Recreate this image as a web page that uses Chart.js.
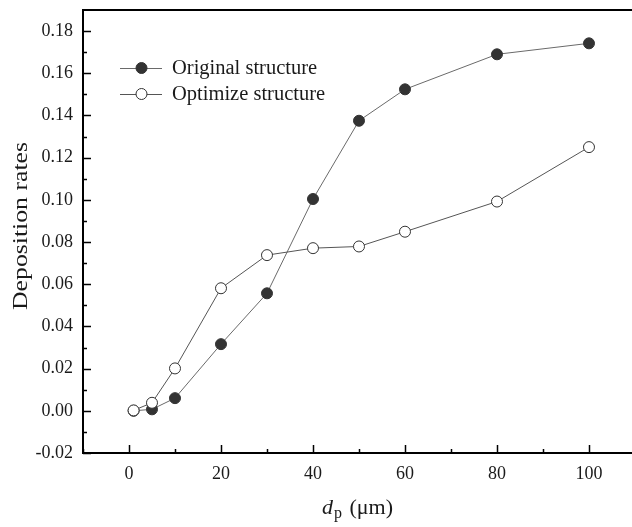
<!DOCTYPE html>
<html>
<head>
<meta charset="utf-8">
<script src="https://cdn.jsdelivr.net/npm/chart.js@4.4.1/dist/chart.umd.min.js"></script>
<style>
html, body { margin: 0; padding: 0; background: #fff; overflow: hidden; }
#chart { display: block; }
</style>
</head>
<body>
<canvas id="chart" width="632" height="527"></canvas>
<script>
// particle size (um) and deposition rates
const sizes = [1, 5, 10, 20, 30, 40, 50, 60, 80, 100];
const originalRates = [0.0, 0.0007, 0.006, 0.0316, 0.0557, 0.1004, 0.1375, 0.1524, 0.169, 0.1742];
const optimizeRates = [0.0002, 0.0038, 0.0201, 0.0581, 0.0738, 0.0771, 0.0779, 0.0849, 0.0992, 0.125];
const seriesNames = ['Original structure', 'Optimize structure'];
const xTickValues = [0, 20, 40, 60, 80, 100];
const yTickValues = [-0.02, 0, 0.02, 0.04, 0.06, 0.08, 0.1, 0.12, 0.14, 0.16, 0.18];

const SERIF = '"Liberation Serif", "Times New Roman", serif';
const INK = '#1a1a1a';

function toPoints(xs, ys) {
    return xs.map((x, i) => ({ x: x, y: ys[i] }));
}

// inward major/minor ticks, top frame line, legend and axis titles
const decorations = {
    id: 'decorations',
    afterDraw(chart) {
        const ctx = chart.ctx;
        const area = chart.chartArea;
        const xs = chart.scales.x;
        const ys = chart.scales.y;

        ctx.save();
        ctx.strokeStyle = '#000';
        ctx.lineWidth = 2;
        ctx.beginPath();
        ctx.moveTo(area.left - 1, area.top);
        ctx.lineTo(area.right, area.top);
        ctx.stroke();

        ctx.lineWidth = 1.5;
        ctx.beginPath();
        for (let v = -10; v <= 100; v += 10) {
            const px = Math.round(xs.getPixelForValue(v)) + 0.5;
            const len = (v % 20 === 0) ? 8 : 4;
            ctx.moveTo(px, area.bottom);
            ctx.lineTo(px, area.bottom - len);
        }
        for (let i = -2; i <= 18; i++) {
            const py = Math.round(ys.getPixelForValue(i / 100)) + 0.5;
            const len = (i % 2 === 0) ? 8 : 4;
            ctx.moveTo(area.left, py);
            ctx.lineTo(area.left + len, py);
        }
        ctx.stroke();

        // legend
        chart.data.datasets.forEach((ds, i) => {
            const y = 68 + i * 26;
            ctx.strokeStyle = ds.borderColor;
            ctx.lineWidth = 1;
            ctx.beginPath();
            ctx.moveTo(120, y + 0.5);
            ctx.lineTo(162, y + 0.5);
            ctx.stroke();
            ctx.beginPath();
            ctx.arc(141.5, y, 5.5, 0, Math.PI * 2);
            ctx.fillStyle = ds.pointBackgroundColor;
            ctx.fill();
            ctx.strokeStyle = ds.pointBorderColor;
            ctx.stroke();
            ctx.fillStyle = INK;
            ctx.font = '20.5px ' + SERIF;
            ctx.textBaseline = 'middle';
            ctx.textAlign = 'left';
            ctx.fillText(ds.label, 172, y + 1);
        });

        // y axis title, stretched to the length it has in the figure
        ctx.font = '21px ' + SERIF;
        const yTitle = 'Deposition rates';
        const w = ctx.measureText(yTitle).width;
        ctx.translate(27, 226);
        ctx.rotate(-Math.PI / 2);
        ctx.scale(168 / w, 1);
        ctx.textAlign = 'center';
        ctx.textBaseline = 'alphabetic';
        ctx.fillStyle = INK;
        ctx.fillText(yTitle, 0, 0);
        ctx.restore();

        // x axis title: d_p (um)
        ctx.save();
        ctx.fillStyle = INK;
        ctx.textBaseline = 'alphabetic';
        ctx.textAlign = 'left';
        let x = 322;
        const base = 514;
        ctx.font = 'italic 22px ' + SERIF;
        ctx.fillText('d', x, base);
        x += ctx.measureText('d').width + 1;
        ctx.font = '16px ' + SERIF;
        ctx.fillText('p', x, base + 4);
        x += ctx.measureText('p').width + 2;
        ctx.font = '22px ' + SERIF;
        ctx.fillText(' (\u03bcm)', x, base);
        ctx.restore();
    }
};

const ctx = document.getElementById('chart').getContext('2d');
new Chart(ctx, {
    type: 'line',
    data: {
        datasets: [
            {
                label: seriesNames[0],
                data: toPoints(sizes, originalRates),
                borderColor: '#6a6a6a',
                borderWidth: 1,
                pointRadius: 5.5,
                pointBorderWidth: 1,
                pointBackgroundColor: '#333333',
                pointBorderColor: '#333333',
                order: 1
            },
            {
                label: seriesNames[1],
                data: toPoints(sizes, optimizeRates),
                borderColor: '#555555',
                borderWidth: 1,
                pointRadius: 5.5,
                pointBorderWidth: 1,
                pointBackgroundColor: '#ffffff',
                pointBorderColor: '#333333',
                order: 0
            }
        ]
    },
    options: {
        responsive: false,
        animation: false,
        layout: { autoPadding: false, padding: { top: 10, right: 0, bottom: 0, left: 0 } },
        plugins: {
            legend: { display: false },
            tooltip: { enabled: false }
        },
        scales: {
            x: {
                type: 'linear',
                min: -10,
                max: 109.35,
                grid: { display: false, drawTicks: false },
                border: { display: true, color: '#000', width: 2 },
                afterBuildTicks: (scale) => { scale.ticks = xTickValues.map(v => ({ value: v })); },
                afterFit: (scale) => {
                    scale.height = 74;
                    scale.paddingLeft = 0;
                    scale.paddingRight = 0;
                },
                ticks: {
                    padding: 10,
                    color: INK,
                    font: { family: SERIF, size: 18 },
                    callback: (v) => String(v)
                }
            },
            y: {
                type: 'linear',
                min: -0.02,
                max: 0.19,
                grid: { display: false, drawTicks: false },
                border: { display: true, color: '#000', width: 2 },
                afterBuildTicks: (scale) => { scale.ticks = yTickValues.map(v => ({ value: v })); },
                afterFit: (scale) => {
                    scale.width = 83;
                    scale.paddingTop = 0;
                    scale.paddingBottom = 0;
                },
                ticks: {
                    padding: 10,
                    color: INK,
                    font: { family: SERIF, size: 18 },
                    callback: (v) => Number(v).toFixed(2)
                }
            }
        }
    },
    plugins: [decorations]
});
</script>
</body>
</html>
